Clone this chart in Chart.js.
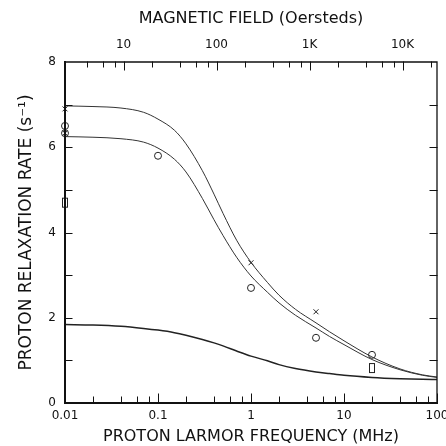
<!DOCTYPE html>
<html>
<head>
<meta charset="utf-8">
<script src="https://cdn.jsdelivr.net/npm/chart.js@4.4.1/dist/chart.umd.min.js"></script>
<style>
  html, body { margin: 0; padding: 0; background: #fff; }
  #wrap { width: 446px; height: 446px; }
</style>
</head>
<body>
<div id="wrap"><canvas id="relaxChart" width="446" height="446"></canvas></div>
<script>
// Frequências (MHz) onde as curvas foram lidas
const freqMHz = [0.01, 0.02, 0.04, 0.07, 0.1, 0.15, 0.2, 0.3, 0.4, 0.5, 0.7, 1, 1.5, 2, 3, 5, 7, 10, 20, 40, 70, 100];
const upperCurve = [6.97, 6.955, 6.92, 6.82, 6.66, 6.4, 6.08, 5.45, 4.9, 4.45, 3.82, 3.3, 2.83, 2.53, 2.2, 1.88, 1.67, 1.46, 1.08, 0.8, 0.66, 0.61];
const middleCurve = [6.25, 6.235, 6.2, 6.12, 5.98, 5.72, 5.42, 4.8, 4.3, 3.93, 3.42, 2.98, 2.6, 2.35, 2.06, 1.76, 1.56, 1.37, 1.02, 0.78, 0.65, 0.6];
const lowerCurve = [1.84, 1.83, 1.8, 1.75, 1.71, 1.65, 1.59, 1.49, 1.41, 1.34, 1.22, 1.1, 0.99, 0.9, 0.81, 0.73, 0.69, 0.65, 0.6, 0.57, 0.555, 0.55];

// Pontos medidos
const crossFreq = [0.01, 0.01, 1, 5];
const crossRate = [6.9, 6.33, 3.29, 2.14];
const circleFreq = [0.01, 0.01, 0.1, 1, 5, 20];
const circleRate = [6.5, 6.33, 5.8, 2.7, 1.53, 1.13];
const boxFreq = [0.01, 20];
const boxRate = [4.7, 0.82];

// Eixos
const xDecades = [0.01, 0.1, 1, 10, 100];
const xTickLabels = ['0.01', '0.1', '1', '10', '100'];
const fieldDecades = [10, 100, 1000, 10000];
const fieldTickLabels = ['10', '100', '1K', '10K'];
const yLabelled = [0, 2, 4, 6, 8];
const minorSteps = [2, 4, 6, 8];
const mhzPerOersted = 0.004258;

const xMin = 0.01, xMax = 100;

function toPoints(xs, ys) {
    return xs.map((x, i) => ({ x: x, y: ys[i] }));
}

function logTicks(min, max) {
    const ticks = [];
    for (let d = Math.pow(10, Math.floor(Math.log10(min))); d <= max * 1.001; d *= 10) {
        [1, ...minorSteps].forEach(m => {
            const v = d * m;
            if (v >= min * 0.999 && v <= max * 1.001) ticks.push({ value: v, major: m === 1 });
        });
    }
    return ticks;
}

function labelFor(value, decades, labels) {
    const i = decades.findIndex(d => Math.abs(Math.log10(d) - Math.log10(value)) < 1e-6);
    return i >= 0 ? labels[i] : '';
}

// Marcador retangular (mais alto que largo)
const boxMark = document.createElement('canvas');
boxMark.width = 8;
boxMark.height = 12;
const bctx = boxMark.getContext('2d');
bctx.fillStyle = '#fff';
bctx.fillRect(1.5, 1.5, 5, 9);
bctx.strokeStyle = '#222';
bctx.lineWidth = 1;
bctx.strokeRect(1.5, 1.5, 5, 9);

// Moldura e marcas para dentro
const frameAndTicks = {
    id: 'frameAndTicks',
    afterDatasetsDraw(chart) {
        const { ctx, chartArea: a, scales } = chart;
        ctx.save();
        ctx.strokeStyle = '#111';
        ctx.lineCap = 'square';

        ctx.lineWidth = 1.3;
        ctx.beginPath();
        ctx.moveTo(a.left, a.top);
        ctx.lineTo(a.right, a.top);
        ctx.lineTo(a.right, a.bottom);
        ctx.stroke();

        ctx.lineWidth = 2;
        ctx.beginPath();
        ctx.moveTo(a.left, a.top);
        ctx.lineTo(a.left, a.bottom);
        ctx.lineTo(a.right, a.bottom);
        ctx.stroke();

        ctx.lineWidth = 1;
        ctx.beginPath();
        scales.x.ticks.forEach(t => {
            const px = Math.round(scales.x.getPixelForValue(t.value)) + 0.5;
            const len = t.major ? 9 : 6;
            ctx.moveTo(px, a.bottom);
            ctx.lineTo(px, a.bottom - len);
        });
        scales.x2.ticks.forEach(t => {
            const px = Math.round(scales.x2.getPixelForValue(t.value)) + 0.5;
            const len = t.major ? 8 : 5;
            ctx.moveTo(px, a.top);
            ctx.lineTo(px, a.top + len);
        });
        scales.y.ticks.forEach(t => {
            if (t.value <= 0 || t.value >= 8) return;
            const py = Math.round(scales.y.getPixelForValue(t.value)) + 0.5;
            ctx.moveTo(a.left, py);
            ctx.lineTo(a.left + 7, py);
            ctx.moveTo(a.right, py);
            ctx.lineTo(a.right - 7, py);
        });
        ctx.stroke();
        ctx.restore();
    }
};

const tickFont = { family: 'DejaVu Sans', size: 12 };
const titleFont = { family: 'DejaVu Sans', size: 16 };

const chart = new Chart(document.getElementById('relaxChart'), {
    type: 'line',
    data: {
        datasets: [
            {
                data: toPoints(freqMHz, upperCurve),
                borderColor: '#333', borderWidth: 1, pointRadius: 0,
                cubicInterpolationMode: 'monotone'
            },
            {
                data: toPoints(freqMHz, middleCurve),
                borderColor: '#333', borderWidth: 1, pointRadius: 0,
                cubicInterpolationMode: 'monotone'
            },
            {
                data: toPoints(freqMHz, lowerCurve),
                borderColor: '#222', borderWidth: 1.5, pointRadius: 0,
                cubicInterpolationMode: 'monotone'
            },
            {
                data: toPoints(crossFreq, crossRate),
                showLine: false, pointStyle: 'crossRot', pointRadius: 3.5,
                borderColor: '#222', borderWidth: 1, clip: false
            },
            {
                data: toPoints(circleFreq, circleRate),
                showLine: false, pointStyle: 'circle', pointRadius: 3.5,
                borderColor: '#222', backgroundColor: '#fff', borderWidth: 1, clip: false
            },
            {
                data: toPoints(boxFreq, boxRate),
                showLine: false, pointStyle: boxMark, pointRadius: 5, clip: false
            }
        ]
    },
    options: {
        responsive: false,
        animation: false,
        devicePixelRatio: 1,
        layout: { padding: { left: 0, right: 9, top: 0, bottom: 0 } },
        plugins: { legend: { display: false }, tooltip: { enabled: false } },
        scales: {
            x: {
                type: 'logarithmic', position: 'bottom', min: xMin, max: xMax,
                grid: { display: false, drawTicks: false }, border: { display: false },
                afterBuildTicks: s => { s.ticks = logTicks(xMin, xMax); },
                afterFit: s => { s.height = 43; s.paddingLeft = 0; s.paddingRight = 0; },
                ticks: {
                    autoSkip: false, maxRotation: 0, padding: 6,
                    color: '#111', font: tickFont,
                    callback: v => labelFor(v, xDecades, xTickLabels)
                },
                title: {
                    display: true, text: 'PROTON LARMOR FREQUENCY (MHz)',
                    color: '#111', font: titleFont, padding: { top: 0, bottom: 0 }
                }
            },
            x2: {
                type: 'logarithmic', position: 'top',
                min: xMin / mhzPerOersted, max: xMax / mhzPerOersted,
                grid: { display: false, drawTicks: false }, border: { display: false },
                afterBuildTicks: s => { s.ticks = logTicks(xMin / mhzPerOersted, xMax / mhzPerOersted); },
                afterFit: s => { s.height = 62; s.paddingLeft = 0; s.paddingRight = 0; },
                ticks: {
                    autoSkip: false, maxRotation: 0, padding: 10,
                    color: '#111', font: tickFont,
                    callback: v => labelFor(v, fieldDecades, fieldTickLabels)
                },
                title: {
                    display: true, text: 'MAGNETIC FIELD (Oersteds)',
                    color: '#111', font: titleFont, padding: { top: 9, bottom: 0 }
                }
            },
            y: {
                min: 0, max: 8,
                grid: { display: false, drawTicks: false }, border: { display: false },
                afterFit: s => { s.width = 65; s.paddingTop = 0; s.paddingBottom = 0; },
                ticks: {
                    stepSize: 1, autoSkip: false, padding: 9,
                    color: '#111', font: tickFont,
                    callback: v => yLabelled.includes(v) ? String(v) : ''
                },
                title: {
                    display: true, text: 'PROTON RELAXATION RATE (s⁻¹)',
                    color: '#111', font: { family: 'DejaVu Sans', size: 17 },
                    padding: { top: 16, bottom: 0 }
                }
            }
        }
    },
    plugins: [frameAndTicks]
});
</script>
</body>
</html>
